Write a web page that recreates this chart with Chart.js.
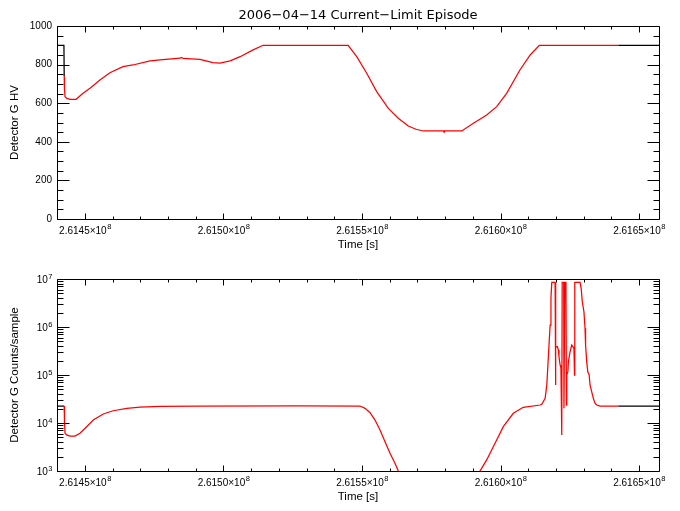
<!DOCTYPE html>
<html>
<head>
<meta charset="utf-8">
<title>2006-04-14 Current-Limit Episode</title>
<script src="https://cdn.jsdelivr.net/npm/chart.js@4"></script>
<style>
html, body { margin: 0; padding: 0; background: #fff; }
body { width: 680px; height: 511px; position: relative; overflow: hidden; }
canvas { position: absolute; left: 0; }
#hvChart { top: 0; }
#countChart { top: 252px; }
</style>
</head>
<body>
<canvas id="hvChart" width="680" height="255"></canvas>
<canvas id="countChart" width="680" height="255"></canvas>
<script>
// Time axis [s]
const timeMin = 261439900;
const timeMax = 261657200;
const xTickValues = [261450000, 261500000, 261550000, 261600000, 261650000];
const xTickLabels = ['2.6145×10⁸', '2.6150×10⁸', '2.6155×10⁸', '2.6160×10⁸', '2.6165×10⁸'];

// the episode itself is drawn in red, the rest in black
const episodeStart = 261442500;
const episodeEnd = 261642500;

// Detector G HV
const hvTime = [
    261439900, 261442400, 261442500, 261442600, 261442800, 261443500, 261444600, 261446800,
    261449300, 261451800, 261455400, 261459000, 261463700, 261467300, 261473500, 261477100,
    261484300, 261484800, 261485400, 261491500, 261496200, 261498700, 261502400, 261506000,
    261510700, 261514300, 261545000, 261548100, 261551700, 261555300, 261559500, 261563100,
    261566700, 261569500, 261572100, 261579400, 261579600, 261579800, 261586000, 261590200,
    261595000, 261598600, 261602200, 261607000, 261610700, 261614000, 261642500, 261657200
];
const hvVolts = [
    900, 900, 740, 672, 634, 625, 620, 620,
    651, 677, 720, 758, 789, 798, 819, 825,
    833, 837, 832, 827, 810, 808, 819, 841,
    876, 900, 900, 841, 755, 660, 573, 522,
    482, 465, 456, 456, 450, 456, 456, 496,
    539, 582, 651, 772, 850, 900, 900, 900
];
const hvTickValues = [0, 200, 400, 600, 800, 1000];

// Detector G counts/sample
const countTime = [
    261439900, 261442500, 261442600, 261442800, 261443500, 261444600, 261446400, 261448200,
    261450600, 261453000, 261456600, 261460200, 261465100, 261469900, 261477100, 261491500,
    261527600, 261549300, 261551100, 261552900, 261554700, 261556500, 261558300, 261560100,
    261561900, 261563100, 261565500, 261590800, 261592600, 261595000, 261598600, 261601000,
    261604600, 261608200, 261614300, 261614900, 261616100, 261616700, 261617300, 261617900,
    261618200, 261618500, 261619700, 261619800, 261620000, 261620500, 261620900, 261621100,
    261621500, 261621800, 261622100, 261622250, 261622800, 261622900, 261623200, 261623600,
    261623800, 261623900, 261624300, 261624500, 261625100, 261625700, 261626100, 261626500,
    261626700, 261626800, 261628700, 261629100, 261629500, 261630100, 261630500, 261630700,
    261631100, 261631500, 261632000, 261632300, 261632900, 261633500, 261634100, 261634700,
    261635900, 261642500, 261657200
];
const countValues = [
    22600, 22600, 10600, 6100, 5600, 5360, 5360, 6100,
    8380, 11500, 15400, 18000, 20200, 21500, 22300, 22600,
    22800, 22600, 20200, 16400, 11500, 7150, 4080, 2340,
    1450, 1000, 400, 400, 1000, 1700, 4430, 8380,
    15900, 21200, 23700, 24500, 32600, 61900, 260000, 1100000,
    4000000, 8500000, 8500000, 62000, 388000, 388000, 330000, 240000,
    162000, 140000, 5600, 8500000, 8500000, 20200, 8500000, 8500000,
    23700, 100000, 117000, 190000, 305000, 420000, 390000, 360000,
    100000, 8500000, 8500000, 6400000, 3400000, 2100000, 939000, 420000,
    190000, 117000, 100000, 62000, 45000, 32600, 25800, 23700,
    22600, 22600, 22600
];
const countTickValues = [1e3, 1e4, 1e5, 1e6, 1e7];
const countTickLabels = ['10³', '10⁴', '10⁵', '10⁶', '10⁷'];

const fontFamily = '"Liberation Sans", Arial, sans-serif';
Chart.defaults.font.family = fontFamily;
Chart.defaults.font.size = 10;
Chart.defaults.color = '#000';

function toPoints(times, values) {
    return times.map((t, i) => ({ x: t, y: values[i] }));
}

function episodePart(times, values) {
    return toPoints(times, values).filter(p => p.x >= episodeStart && p.x <= episodeEnd);
}

function quietPart(times, values) {
    const pts = toPoints(times, values);
    const before = pts.filter(p => p.x <= episodeStart);
    const after = pts.filter(p => p.x >= episodeEnd);
    return before.concat([{ x: (episodeStart + episodeEnd) / 2, y: null }], after);
}

// labels like 2.6145×10⁸ get a real raised exponent
const supDigits = '⁰¹²³⁴⁵⁶⁷⁸⁹';

function splitExponent(label) {
    let base = label;
    let exp = '';
    while (base.length && supDigits.includes(base[base.length - 1])) {
        exp = supDigits.indexOf(base[base.length - 1]) + exp;
        base = base.slice(0, -1);
    }
    return { base, exp };
}

function drawPowerLabel(ctx, label, x, baseline, align, raise) {
    const { base, exp } = splitExponent(label);
    ctx.font = '10px ' + fontFamily;
    const wb = ctx.measureText(base).width;
    ctx.font = '7.5px ' + fontFamily;
    const we = ctx.measureText(exp).width;
    const x0 = align === 'center' ? x - (wb + we) / 2 : x - (wb + we);
    ctx.font = '10px ' + fontFamily;
    ctx.fillText(base, x0, baseline);
    ctx.font = '7.5px ' + fontFamily;
    ctx.fillText(exp, x0 + wb + 0.5, baseline - raise);
}

// IDL style box: inward ticks on all four sides
const idlFrame = {
    id: 'idlFrame',
    afterDatasetsDraw(chart, args, opts) {
        const { ctx, chartArea: a, scales: { x, y } } = chart;
        const left = Math.round(a.left) + 0.5;
        const right = Math.round(a.right) + 0.5;
        const top = Math.round(a.top) + 0.5;
        const bottom = Math.round(a.bottom) + 0.5;
        ctx.save();
        ctx.strokeStyle = '#000';
        ctx.lineWidth = 1;
        ctx.beginPath();
        ctx.rect(left, top, right - left, bottom - top);

        for (let v = Math.ceil(x.min / 10000) * 10000; v <= x.max; v += 10000) {
            const px = Math.round(x.getPixelForValue(v)) + 0.5;
            const len = v % 50000 === 0 ? 6 : 3;
            ctx.moveTo(px, bottom);
            ctx.lineTo(px, bottom - len);
            ctx.moveTo(px, top);
            ctx.lineTo(px, top + len);
        }

        opts.yMarks.forEach(m => {
            const py = Math.round(y.getPixelForValue(m.value)) + 0.5;
            const len = m.major ? 12 : 6;
            ctx.moveTo(left, py);
            ctx.lineTo(left + len, py);
            ctx.moveTo(right, py);
            ctx.lineTo(right - len, py);
        });
        ctx.stroke();

        ctx.fillStyle = '#000';
        ctx.textAlign = 'left';
        ctx.textBaseline = 'alphabetic';
        xTickValues.forEach((v, i) => {
            drawPowerLabel(ctx, xTickLabels[i], x.getPixelForValue(v), a.bottom + 14.5, 'center', 5);
        });
        if (opts.yPowers) {
            countTickValues.forEach((v, i) => {
                drawPowerLabel(ctx, countTickLabels[i], a.left - 5, y.getPixelForValue(v) + 3.5, 'right', 4);
            });
        }
        ctx.restore();
    }
};

const hvMarks = [];
for (let v = 0; v <= 1000; v += 50) {
    hvMarks.push({ value: v, major: hvTickValues.includes(v) });
}

const countMarks = [];
countTickValues.forEach((d, i) => {
    if (i === countTickValues.length - 1) {
        countMarks.push({ value: d, major: true });
        return;
    }
    for (let k = 1; k <= 9; k++) {
        countMarks.push({ value: k * d, major: k === 1 });
    }
});

function timeAxis() {
    return {
        type: 'linear',
        min: timeMin,
        max: timeMax,
        grid: { display: false, drawTicks: false },
        border: { display: false },
        ticks: { display: false },
        title: {
            display: true,
            text: 'Time [s]',
            font: { size: 11.5 },
            padding: { top: 0, bottom: 3 }
        },
        afterBuildTicks: scale => {
            scale.ticks = xTickValues.map(v => ({ value: v }));
        },
        afterFit: scale => {
            scale.height = 36;
            scale.paddingLeft = 0;
            scale.paddingRight = 0;
        }
    };
}

function lineSet(data, color) {
    return {
        data: data,
        borderColor: color,
        borderWidth: 1.25,
        pointRadius: 0,
        tension: 0,
        spanGaps: false
    };
}

// Top panel: high voltage
new Chart(document.getElementById('hvChart'), {
    type: 'line',
    data: {
        datasets: [
            lineSet(episodePart(hvTime, hvVolts), '#ff0000'),
            lineSet(quietPart(hvTime, hvVolts), '#000000')
        ]
    },
    options: {
        responsive: false,
        maintainAspectRatio: false,
        animation: false,
        layout: { padding: { left: 0, right: 21, top: 0, bottom: 0 } },
        plugins: {
            legend: { display: false },
            tooltip: { enabled: false },
            title: {
                display: true,
                text: '2006−04−14 Current−Limit Episode',
                fullSize: false,
                color: '#000',
                font: { family: '"DejaVu Sans", sans-serif', size: 13, weight: 'normal' },
                padding: { top: 8, bottom: 2.4 }
            },
            idlFrame: { yMarks: hvMarks, yPowers: false }
        },
        scales: {
            x: timeAxis(),
            y: {
                type: 'linear',
                min: 0,
                max: 1000,
                grid: { display: false, drawTicks: false },
                border: { display: false },
                ticks: {
                    autoSkip: false,
                    padding: 5,
                    callback: v => String(v)
                },
                title: {
                    display: true,
                    text: 'Detector G HV',
                    font: { size: 11.5 },
                    padding: { top: 8, bottom: 0 }
                },
                afterBuildTicks: scale => {
                    scale.ticks = hvTickValues.map(v => ({ value: v }));
                },
                afterFit: scale => {
                    scale.width = 57;
                    scale.paddingTop = 0;
                    scale.paddingBottom = 0;
                }
            }
        }
    },
    plugins: [idlFrame]
});

// Bottom panel: counts per sample, log scale
new Chart(document.getElementById('countChart'), {
    type: 'line',
    data: {
        datasets: [
            lineSet(episodePart(countTime, countValues), '#ff0000'),
            lineSet(quietPart(countTime, countValues), '#000000')
        ]
    },
    options: {
        responsive: false,
        maintainAspectRatio: false,
        animation: false,
        layout: { padding: { left: 0, right: 21, top: 27, bottom: 0 } },
        plugins: {
            legend: { display: false },
            tooltip: { enabled: false },
            idlFrame: { yMarks: countMarks, yPowers: true }
        },
        scales: {
            x: timeAxis(),
            y: {
                type: 'logarithmic',
                min: 1e3,
                max: 1e7,
                grid: { display: false, drawTicks: false },
                border: { display: false },
                ticks: { display: false },
                title: {
                    display: true,
                    text: 'Detector G Counts/sample',
                    font: { size: 11.5 },
                    padding: { top: 8, bottom: 0 }
                },
                afterBuildTicks: scale => {
                    scale.ticks = countTickValues.map(v => ({ value: v }));
                },
                afterFit: scale => {
                    scale.width = 57;
                    scale.paddingTop = 0;
                    scale.paddingBottom = 0;
                }
            }
        }
    },
    plugins: [idlFrame]
});
</script>
</body>
</html>
